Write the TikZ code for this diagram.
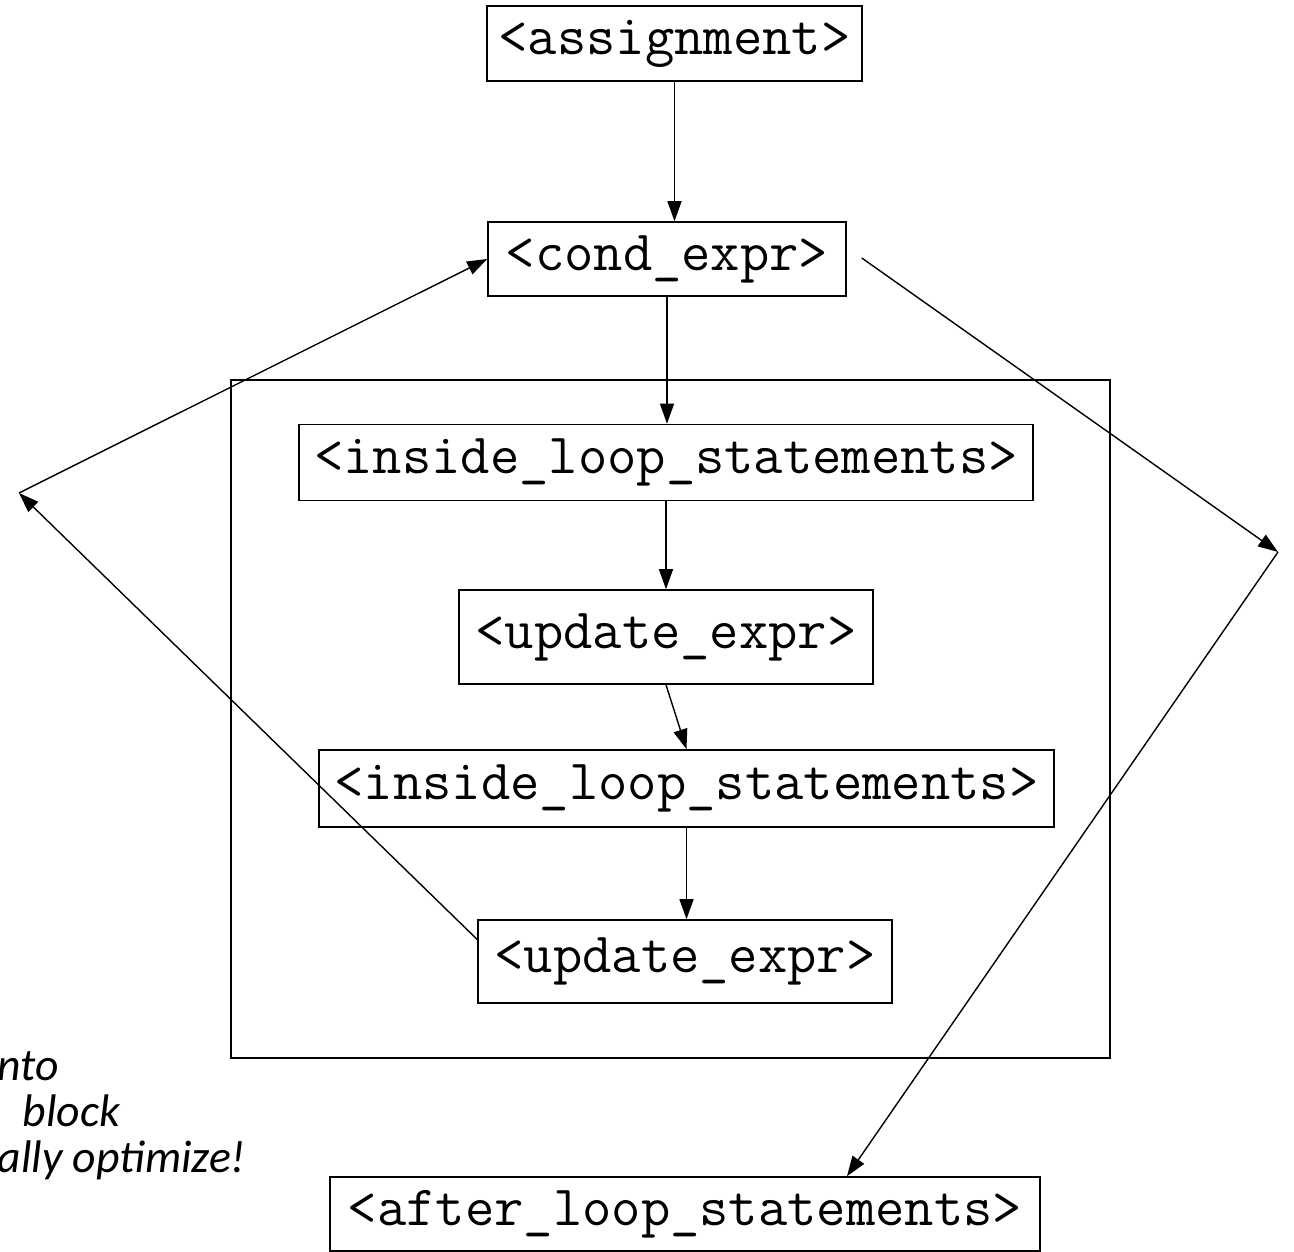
\documentclass[tikz,border=0pt]{standalone}
\usepackage{fontspec}
\newfontfamily\notefont{Carlito}
\usetikzlibrary{positioning,arrows.meta,calc}
\tikzset{
  code/.style={draw, line width=0.45pt, inner sep=0pt, font=\fontsize{16.2}{19}\selectfont\ttfamily},
  arrow/.style={-{Triangle[length=2mm,width=1.4mm]}, line width=0.4pt},
  loopframe/.style={draw, line width=0.85pt, inner sep=0pt},
  note/.style={font=\fontsize{13}{15}\selectfont\notefont\itshape, inner sep=0pt, anchor=base west}
}

\begin{document}
\begin{tikzpicture}[x=0.1mm, y=-0.1mm]
    \useasboundingbox (0,0) rectangle (1294,1252);
    % loop body frame
    \node[loopframe, minimum width=87.9mm, minimum height=67.8mm] (body) at (670.5,719) {};
    \node[code, minimum width=37.5mm, minimum height=7.5mm] (assign) at (674.5,43.5) {<assignment>};
    \node[code, minimum width=35.8mm, minimum height=7.4mm] (cond) at (667,259) {<cond\_expr>};
    \node[code, minimum width=73.4mm, minimum height=7.6mm] (loopa) at (666,462.5) {<inside\_loop\_statements>};
    \node[code, minimum width=41.4mm, minimum height=9.4mm] (upda) at (666,637) {<update\_expr>};
    \node[code, minimum width=73.5mm, minimum height=7.7mm] (loopb) at (686.5,788.5) {<inside\_loop\_statements>};
    \node[code, minimum width=41.4mm, minimum height=8.3mm] (updb) at (685,961.5) {<update\_expr>};
    \node[code, minimum width=71mm, minimum height=7.4mm] (after) at (685,1214) {<after\_loop\_statements>};
    \coordinate (back) at (19,493);
    \coordinate (exit) at (1278,552);
    % straight-line flow
    \draw[arrow] (assign.south) -- (assign.south |- cond.north);
    \draw[arrow] (cond.south) -- (cond.south |- loopa.north);
    \draw[arrow] (loopa.south) -- (loopa.south |- upda.north);
    \draw[arrow] (upda.south) -- (loopb.north);
    \draw[arrow] (loopb.south) -- (loopb.south |- updb.north);
    % jump back and exit
    \draw[arrow] ([yshift=2.2mm]updb.west) -- (back);
    \draw[arrow] (back) -- (cond.west);
    \draw[arrow] ([xshift=1.5mm,yshift=0.1mm]cond.east) -- (exit);
    \draw[arrow] (exit) -- ([xshift=16.2mm]after.north);
    % side remark
    \node[note] (n1) at (-3,1080) {nto};
    \node[note] (n2) at (22,1126) {block};
    \node[note] (n3) at (-3,1172) {ally optimize!};
\end{tikzpicture}
\end{document}
